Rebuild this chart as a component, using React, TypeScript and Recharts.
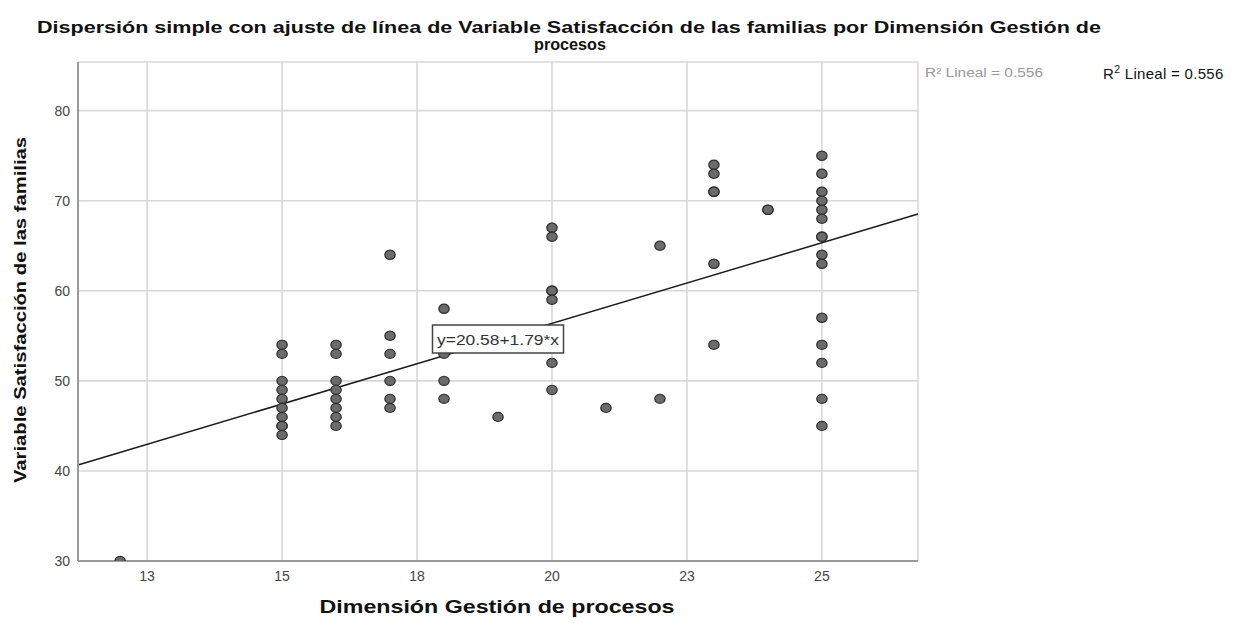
import React from "react";
import { CartesianGrid, Label, ReferenceDot, ReferenceLine, Scatter, ScatterChart, XAxis, YAxis } from "recharts";

// Dimensión Gestión de procesos values and the Satisfacción scores observed at each one
const gestionValues = [12, 15, 16, 17, 18, 19, 20, 21, 22, 23, 24, 25];
const satisfaccionByGestion = [
  [30],
  [54, 53, 50, 49, 48, 47, 46, 45, 45, 44],
  [54, 53, 50, 49, 48, 47, 46, 45],
  [64, 55, 53, 50, 48, 47],
  [58, 54, 53, 50, 48],
  [46],
  [67, 66, 60, 60, 59, 52, 49],
  [47],
  [65, 48],
  [74, 73, 71, 71, 63, 54],
  [69, 69],
  [75, 73, 71, 70, 69, 68, 66, 66, 64, 63, 57, 54, 52, 48, 45],
];

const xTicks = [12.5, 15, 17.5, 20, 22.5, 25];
const xTickLabels = ["13", "15", "18", "20", "23", "25"];
const yTicks = [30, 40, 50, 60, 70, 80];
const xDomain = [11.22, 26.78];
const yDomain = [30, 85.4];

// linear fit reported by the chart
const intercept = 20.58;
const slope = 1.79;
const rSquared = 0.556;
const fitLabelX = 19;

const points = gestionValues.flatMap((g, i) => satisfaccionByGestion[i].map((s) => ({ gestion: g, satisfaccion: s })));
const fit = (x: number) => intercept + slope * x;

const FONT = "'Liberation Sans', Arial, sans-serif";

const Marker = (props: any) => {
  const { cx, cy } = props;
  return <ellipse cx={cx} cy={cy} rx={5.2} ry={4.6} fill="#6b6b6b" stroke="#2e2e2e" strokeWidth={1.2} />;
};

const FitLabel = (props: any) => {
  const { cx, cy } = props;
  return (
    <g>
      <rect x={cx - 65.5} y={cy - 14.5} width={131} height={28} fill="#fff" stroke="#444" strokeWidth={1.5} />
      <text x={cx} y={cy + 5} textAnchor="middle" fontFamily={FONT} fontSize={15} fill="#333" textLength={122} lengthAdjust="spacingAndGlyphs">
        {`y=${intercept}+${slope}*x`}
      </text>
    </g>
  );
};

export default function App() {
  return (
    <div style={{ position: "absolute", left: 0, top: 0, width: 1239, height: 623, background: "#fff" }}>
      <ScatterChart width={1239} height={623} margin={{ top: 62, right: 321, bottom: 0, left: 0 }}>
        <defs>
          <clipPath id="plot-area">
            <rect x={78} y={62} width={840} height={499} />
          </clipPath>
        </defs>
        <CartesianGrid stroke="#d8d8d8" strokeWidth={1.6} />
        <XAxis
          type="number"
          dataKey="gestion"
          domain={xDomain}
          ticks={xTicks}
          allowDataOverflow
          height={62}
          tickLine={false}
          tickSize={0}
          tickMargin={10}
          tickFormatter={(v: number) => xTickLabels[xTicks.indexOf(v)]}
          axisLine={{ stroke: "#9a9a9a", strokeWidth: 2 }}
          tick={{ fontFamily: FONT, fontSize: 14, fill: "#444" }}
        >
          <Label
            content={() => (
              <text x={497} y={613} textAnchor="middle" fontFamily={FONT} fontWeight="bold" fontSize={18} fill="#111" textLength={355} lengthAdjust="spacingAndGlyphs">
                Dimensión Gestión de procesos
              </text>
            )}
          />
        </XAxis>
        <YAxis
          type="number"
          dataKey="satisfaccion"
          domain={yDomain}
          ticks={yTicks}
          allowDataOverflow
          width={78}
          tickLine={false}
          tickSize={0}
          tickMargin={8}
          axisLine={{ stroke: "#9a9a9a", strokeWidth: 2 }}
          tick={{ fontFamily: FONT, fontSize: 14, fill: "#444" }}
        >
          <Label
            content={() => (
              <text x={0} y={0} transform="translate(26 310) rotate(-90)" textAnchor="middle" fontFamily={FONT} fontWeight="bold" fontSize={17} fill="#111" textLength={346} lengthAdjust="spacingAndGlyphs">
                Variable Satisfacción de las familias
              </text>
            )}
          />
        </YAxis>
        <ReferenceLine
          segment={[
            { x: xDomain[0], y: fit(xDomain[0]) },
            { x: xDomain[1], y: fit(xDomain[1]) },
          ]}
          stroke="#1a1a1a"
          strokeWidth={1.5}
          ifOverflow="visible"
        />
        <Scatter
          data={points}
          shape={(p: any) => (
            <g clipPath="url(#plot-area)">
              <Marker {...p} />
            </g>
          )}
          isAnimationActive={false}
        />
        <ReferenceDot x={fitLabelX} y={fit(fitLabelX)} shape={<FitLabel />} ifOverflow="visible" />
      </ScatterChart>
      <svg width={1239} height={623} style={{ position: "absolute", left: 0, top: 0, pointerEvents: "none" }}>
        <text x={569} y={33} textAnchor="middle" fontFamily={FONT} fontWeight="bold" fontSize={17} fill="#111" textLength={1064} lengthAdjust="spacingAndGlyphs">
          Dispersión simple con ajuste de línea de Variable Satisfacción de las familias por Dimensión Gestión de
        </text>
        <text x={570} y={50} textAnchor="middle" fontFamily={FONT} fontWeight="bold" fontSize={17} fill="#111" textLength={72} lengthAdjust="spacingAndGlyphs">
          procesos
        </text>
        <text x={925} y={77} fontFamily={FONT} fontSize={12} fill="#999" textLength={118} lengthAdjust="spacingAndGlyphs">
          {`R² Lineal = ${rSquared}`}
        </text>
        <text x={1103} y={79} fontFamily={FONT} fontSize={15} fill="#111" letterSpacing={0.3}>
          R<tspan dy={-6} fontSize={10.5}>2</tspan>
          <tspan dy={6}>{` Lineal = ${rSquared}`}</tspan>
        </text>
      </svg>
    </div>
  );
}
